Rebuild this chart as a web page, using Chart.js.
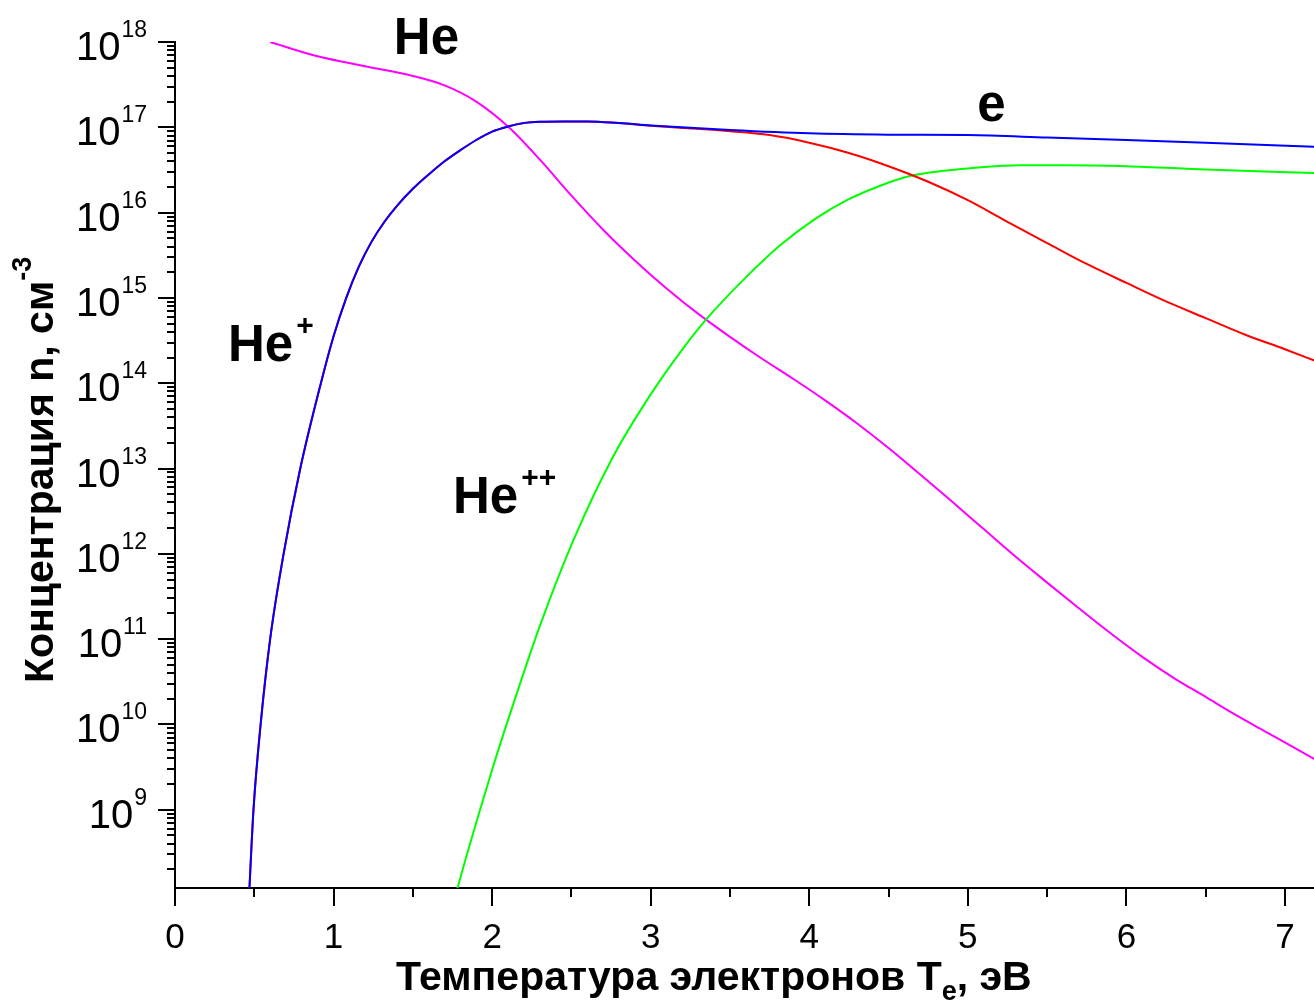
<!DOCTYPE html>
<html>
<head>
<meta charset="utf-8">
<script src="https://cdn.jsdelivr.net/npm/chart.js@4.4.0/dist/chart.umd.min.js"></script>
<style>
  html, body { margin: 0; padding: 0; background: #fff; }
  canvas { display: block; }
</style>
</head>
<body>
<canvas id="plot" width="1314" height="1006"></canvas>
<script>
// Electron temperature Te (eV) and concentrations (cm^-3) of each species
const tempE = [0.46, 0.47, 0.495, 0.54, 0.6, 0.685, 0.79, 0.92, 1.0, 1.08, 1.16, 1.24, 1.32, 1.4, 1.5, 1.6, 1.7, 1.8, 1.9, 2.0, 2.1, 2.2, 2.3, 2.45, 2.6, 2.8, 3.0, 3.5, 4.0, 4.5, 5.0, 5.5, 6.0, 6.5, 7.2];
const concE = [5.0e7, 1.26e8, 1.0e9, 1.0e10, 1.0e11, 1.0e12, 1.0e13, 1.0e14, 3.55e14, 1.0e15, 2.34e15, 4.57e15, 7.76e15, 1.2e16, 1.9e16, 2.8e16, 4.0e16, 5.4e16, 7.1e16, 8.9e16, 1.02e17, 1.12e17, 1.16e17, 1.17e17, 1.17e17, 1.12e17, 1.05e17, 9.3e16, 8.5e16, 8.2e16, 8.1e16, 7.6e16, 7.1e16, 6.6e16, 5.9e16];

const tempHe1 = [0.46, 0.47, 0.495, 0.54, 0.6, 0.685, 0.79, 0.92, 1.0, 1.08, 1.16, 1.24, 1.32, 1.4, 1.5, 1.6, 1.7, 1.8, 1.9, 2.0, 2.1, 2.2, 2.3, 2.45, 2.6, 2.8, 3.0, 3.5, 3.75, 4.0, 4.25, 4.5, 4.75, 5.0, 5.25, 5.5, 5.75, 6.0, 6.25, 6.5, 6.75, 7.0, 7.2];
const concHe1 = [5.0e7, 1.26e8, 1.0e9, 1.0e10, 1.0e11, 1.0e12, 1.0e13, 1.0e14, 3.55e14, 1.0e15, 2.34e15, 4.57e15, 7.76e15, 1.2e16, 1.9e16, 2.8e16, 4.0e16, 5.4e16, 7.1e16, 8.9e16, 1.02e17, 1.12e17, 1.16e17, 1.17e17, 1.17e17, 1.12e17, 1.04e17, 9.0e16, 8.1e16, 6.6e16, 5.0e16, 3.5e16, 2.3e16, 1.4e16, 7.8e15, 4.4e15, 2.5e15, 1.5e15, 9.1e14, 5.8e14, 3.7e14, 2.5e14, 1.8e14];

const tempHe2 = [1.75, 1.77, 1.84, 1.92, 2.0, 2.13, 2.3, 2.51, 2.76, 3.0, 3.2, 3.35, 3.6, 3.82, 4.04, 4.24, 4.44, 4.64, 4.85, 5.0, 5.33, 5.6, 6.0, 6.5, 7.2];
const concHe2 = [7.1e7, 1.0e8, 2.95e8, 9.5e8, 2.95e9, 1.66e10, 1.41e11, 1.41e12, 1.35e13, 7.4e13, 2.5e14, 5.6e14, 1.74e15, 4.2e15, 8.5e15, 1.41e16, 2.04e16, 2.7e16, 3.1e16, 3.3e16, 3.6e16, 3.6e16, 3.5e16, 3.2e16, 2.9e16];

const tempHe0 = [0.6, 0.9, 1.2, 1.5, 1.7, 1.9, 2.1, 2.3, 2.5, 2.7, 2.9, 3.1, 3.3, 3.5, 3.7, 3.9, 4.1, 4.3, 4.5, 4.7, 4.9, 5.1, 5.3, 5.5, 5.7, 5.9, 6.1, 6.3, 6.5, 6.7, 6.9, 7.2];
const concHe0 = [1.0e18, 6.8e17, 5.2e17, 4.0e17, 3.1e17, 2.0e17, 1.02e17, 4.2e16, 1.58e16, 6.3e15, 2.75e15, 1.29e15, 6.5e14, 3.5e14, 1.95e14, 1.12e14, 6.3e13, 3.4e13, 1.74e13, 8.5e12, 4.1e12, 1.95e12, 9.3e11, 4.6e11, 2.3e11, 1.17e11, 6.2e10, 3.5e10, 2.1e10, 1.26e10, 7.8e9, 3.8e9];

// axis ranges and tick labels
const tempMin = 0, tempMax = 7.183;
const concMin = 1.21e8, concMax = 1e18;
const tempTicks = [0, 1, 2, 3, 4, 5, 6, 7];
const concExps = [9, 10, 11, 12, 13, 14, 15, 16, 17, 18];

// curve labels, anchored in data units (left edge, baseline)
const curveLabels = [
  { text: 'He', sup: '',   t: 1.38,  n: 7.2e17 },
  { text: 'e',  sup: '',   t: 5.06,  n: 1.17e17 },
  { text: 'He', sup: '+',  t: 0.334, n: 1.82e14 },
  { text: 'He', sup: '++', t: 1.753, n: 3.0e12 }
];

const FONT = '"Liberation Sans", Arial, sans-serif';

function pts(xs, ys) {
  return xs.map((t, i) => ({ x: t, y: ys[i] }));
}

// draws a sequence of text pieces side by side (for sub/superscripts)
function drawRuns(ctx, runs, x, y) {
  let cx = x;
  for (const r of runs) {
    ctx.font = (r.bold ? 'bold ' : '') + r.size + 'px ' + FONT;
    cx += r.gap || 0;
    ctx.fillText(r.text, cx, y + (r.dy || 0));
    cx += ctx.measureText(r.text).width;
  }
  return cx - x;
}

const decorations = {
  id: 'decorations',
  afterDraw(chart) {
    const { ctx, chartArea, scales } = chart;
    const xs = scales.x, ys = scales.y;
    ctx.save();
    ctx.strokeStyle = '#000';
    ctx.fillStyle = '#000';
    ctx.lineWidth = 2;
    ctx.lineCap = 'butt';

    // log ticks on y: decades long, 2..9 short
    ctx.beginPath();
    for (let d = 8; d <= 18; d++) {
      for (let m = 1; m <= 9; m++) {
        const v = m * Math.pow(10, d);
        if (v < concMin || v > concMax * 1.0001) continue;
        const py = Math.round(ys.getPixelForValue(v));
        const len = m === 1 ? 17 : 8;
        ctx.moveTo(chartArea.left - len, py);
        ctx.lineTo(chartArea.left, py);
      }
    }
    // x ticks: integers long, halves short
    for (let t = 0; t <= tempMax; t += 0.5) {
      const px = Math.round(xs.getPixelForValue(t));
      const len = Number.isInteger(t) ? 18 : 9;
      ctx.moveTo(px, chartArea.bottom);
      ctx.lineTo(px, chartArea.bottom + len);
    }
    ctx.stroke();

    // y tick labels 10^n
    ctx.textBaseline = 'alphabetic';
    ctx.textAlign = 'left';
    for (const e of concExps) {
      const py = ys.getPixelForValue(Math.pow(10, e));
      ctx.font = '23px ' + FONT;
      const ew = ctx.measureText(String(e)).width;
      const right = 147;
      ctx.fillText(String(e), right - ew, py - 5);
      ctx.font = '40px ' + FONT;
      const bw = ctx.measureText('10').width;
      ctx.fillText('10', right - ew - bw - 1, py + 18);
    }

    // x tick labels
    ctx.textAlign = 'center';
    ctx.textBaseline = 'middle';
    ctx.font = '35px ' + FONT;
    for (const t of tempTicks) {
      ctx.fillText(String(t), xs.getPixelForValue(t), chartArea.bottom + 50);
    }

    // axis titles
    ctx.textAlign = 'left';
    ctx.textBaseline = 'alphabetic';
    drawRuns(ctx, [
      { text: 'Температура электронов T', size: 41, bold: true },
      { text: 'e', size: 27, bold: true, dy: 10 },
      { text: ', эВ', size: 41, bold: true }
    ], 396, 990);

    ctx.save();
    ctx.translate(53, 683);
    ctx.rotate(-Math.PI / 2);
    drawRuns(ctx, [
      { text: 'Концентрация n, см', size: 41, bold: true },
      { text: '-3', size: 27, bold: true, dy: -22 }
    ], 0, 0);
    ctx.restore();

    // curve labels
    for (const lab of curveLabels) {
      const px = xs.getPixelForValue(lab.t);
      const py = ys.getPixelForValue(lab.n);
      const runs = [{ text: lab.text, size: 51, bold: true }];
      if (lab.sup) runs.push({ text: lab.sup, size: 30, bold: true, dy: -26, gap: 3 });
      drawRuns(ctx, runs, px, py);
    }
    ctx.restore();
  }
};

const line = (label, xs, ys, color) => ({
  label: label,
  data: pts(xs, ys),
  borderColor: color,
  backgroundColor: color,
  borderWidth: 2,
  pointRadius: 0,
  fill: false,
  cubicInterpolationMode: 'monotone'
});

new Chart(document.getElementById('plot'), {
  type: 'line',
  data: {
    // first dataset is painted last, so e sits on top of He+
    datasets: [
      line('e', tempE, concE, '#0000ff'),
      line('He+', tempHe1, concHe1, '#ff0000'),
      line('He++', tempHe2, concHe2, '#00ff00'),
      line('He', tempHe0, concHe0, '#ff00ff')
    ]
  },
  options: {
    responsive: false,
    animation: false,
    devicePixelRatio: 1,
    layout: { padding: { top: 42, right: 0, bottom: 0, left: 0 } },
    plugins: { legend: { display: false }, tooltip: { enabled: false } },
    scales: {
      x: {
        type: 'linear',
        bounds: 'data',
        min: tempMin,
        max: tempMax,
        grid: { display: false },
        border: { display: true, color: '#000', width: 2 },
        ticks: { display: false },
        afterFit: s => { s.height = 118; }
      },
      y: {
        type: 'logarithmic',
        bounds: 'data',
        min: concMin,
        max: concMax,
        grid: { display: false },
        border: { display: true, color: '#000', width: 2 },
        ticks: { display: false },
        afterFit: s => { s.width = 175; }
      }
    }
  },
  plugins: [decorations]
});
</script>
</body>
</html>
